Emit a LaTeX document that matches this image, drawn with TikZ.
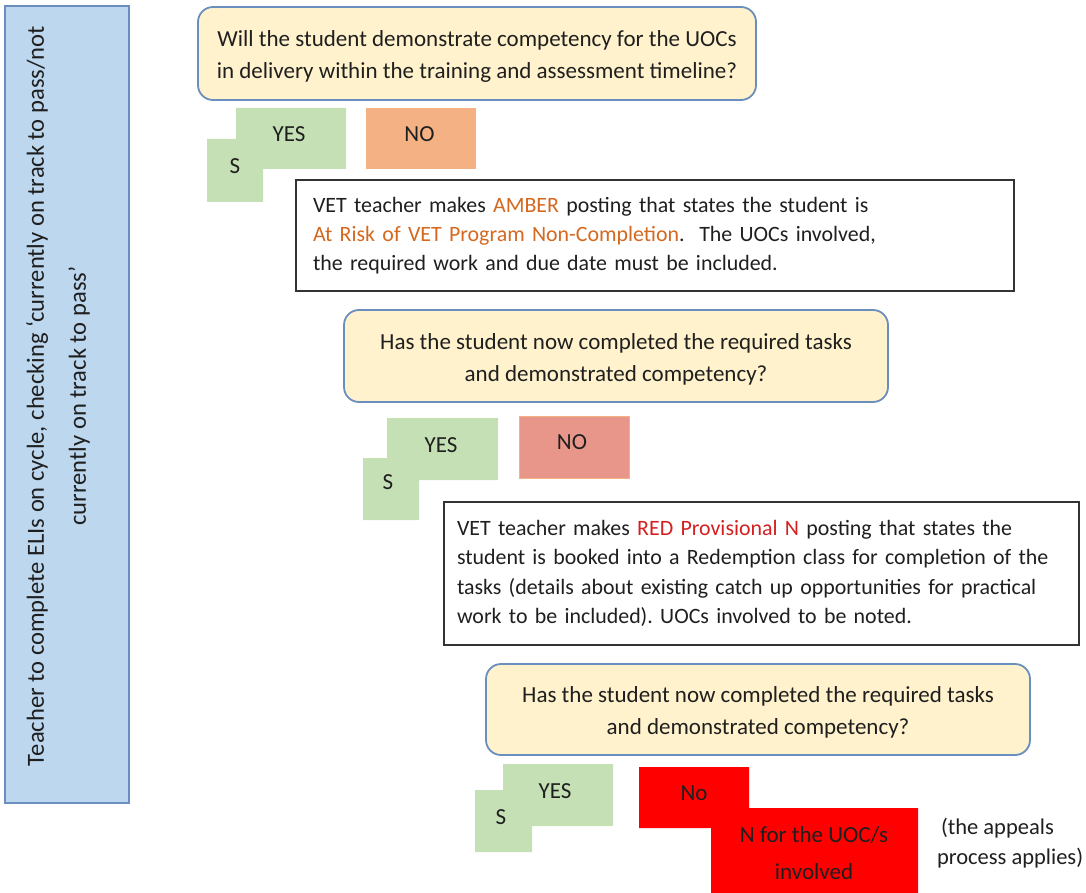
\documentclass[tikz,border=0pt]{standalone}
\usepackage{fontspec}
\setmainfont{Carlito}
\frenchspacing
\definecolor{bluefill}{HTML}{BDD7EE}
\definecolor{blueline}{HTML}{6A8EBE}
\definecolor{cream}{HTML}{FFF2CC}
\definecolor{qline}{HTML}{6A8EBE}
\definecolor{yesgreen}{HTML}{C5E0B4}
\definecolor{noorange}{HTML}{F4B183}
\definecolor{nosalmon}{HTML}{E8968A}
\definecolor{amber}{HTML}{D4691F}
\definecolor{redtxt}{HTML}{D42020}
\begin{document}
\begin{tikzpicture}[x=1pt,y=-1pt,
  every node/.style={inner sep=0pt, outer sep=0pt, font=\fontsize{23}{30}\selectfont, text=black!88},
  qbox/.style={draw=qline, line width=1.8pt, fill=cream, rounded corners=15pt},
  qtext/.style={align=center, font=\fontsize{23}{32}\selectfont},
  tbox/.style={draw=black!80, line width=1.4pt, fill=white, align=left, anchor=north west, font=\fontsize{21.9}{29.3}\selectfont},
  lbl/.style={}
]
\useasboundingbox (0,0) rectangle (1086,893);

% left blue box
\node[draw=blueline, line width=1.6pt, fill=bluefill, minimum width=124, minimum height=797, anchor=north west] (side) at (5,6) {};
\node[rotate=90, align=center, font=\fontsize{24.6}{42}\selectfont] (sidetxt) at (58,396)
  {Teacher to complete ELIs on cycle, checking ‘currently on track to pass/not\\currently on track to pass’};

% question 1
\node[qbox, minimum width=558, minimum height=93] (q1) at (477,53.5) {};
\node[qtext] (q1txt) at (477,56.5)
  {Will the student demonstrate competency for the UOCs\\in delivery within the training and assessment timeline?};

% yes/no 1
\fill[yesgreen] (236,108) rectangle (346,169) (207,139) rectangle (263,202);
\node[lbl] (yes1) at (289,134) {YES};
\node[lbl] (s1) at (235,166) {S};
\node[fill=noorange, minimum width=110, minimum height=61] (no1) at (421,138.5) {};
\node[lbl] (no1txt) at (419.5,134) {NO};

% amber box
\node[tbox, minimum width=718, minimum height=111, text width=684, inner xsep=17pt] (amber) at (296,180)
  {VET teacher makes \textcolor{amber}{AMBER} posting that states the student is\\
   \textcolor{amber}{At Risk of VET Program Non-Completion}.\ \ The UOCs involved,\\
   the required work and due date must be included.};

% question 2
\node[qbox, minimum width=544, minimum height=92] (q2) at (616,356) {};
\node[qtext] (q2txt) at (616,359)
  {Has the student now completed the required tasks\\and demonstrated competency?};

% yes/no 2
\fill[yesgreen] (387,418) rectangle (498,480) (363,458) rectangle (419,520);
\node[lbl] (yes2) at (441,445) {YES};
\node[lbl] (s2) at (388,482) {S};
\node[fill=nosalmon, draw=noorange, line width=0.8pt, minimum width=110, minimum height=62] (no2) at (574,447) {};
\node[lbl] (no2txt) at (572,442) {NO};

% red provisional box
\node[tbox, minimum width=635, minimum height=143, text width=615, inner xsep=10pt] (redbox) at (444,502)
  {\hspace*{3pt}VET teacher makes \textcolor{redtxt}{RED Provisional N} posting that states the\\
   \hspace*{3pt}student is booked into a Redemption class for completion of the\\
   \hspace*{3pt}tasks (details about existing catch up opportunities for practical\\
   \hspace*{3pt}work to be included). UOCs involved to be noted.};

% question 3
\node[qbox, minimum width=544, minimum height=91] (q3) at (758,709.5) {};
\node[qtext] (q3txt) at (758,712.5)
  {Has the student now completed the required tasks\\and demonstrated competency?};

% yes/no 3
\fill[yesgreen] (503,764) rectangle (613,826) (475,790) rectangle (532,852);
\node[lbl] (yes3) at (555,791) {YES};
\node[lbl] (s3) at (501,817) {S};
\fill[red] (639,767) rectangle (749,828) (711,808) rectangle (918,893);
\node[lbl] (no3) at (694,793.5) {No};
\node[lbl, align=center] (n3) at (814,835) {N for the UOC/s};
\node[lbl] (inv3) at (814,872) {involved};
\node[anchor=west, align=left, font=\fontsize{22.5}{30}\selectfont] (appeals) at (937,843)
  {\hspace*{4pt}(the appeals\\process applies)};
\end{tikzpicture}
\end{document}
